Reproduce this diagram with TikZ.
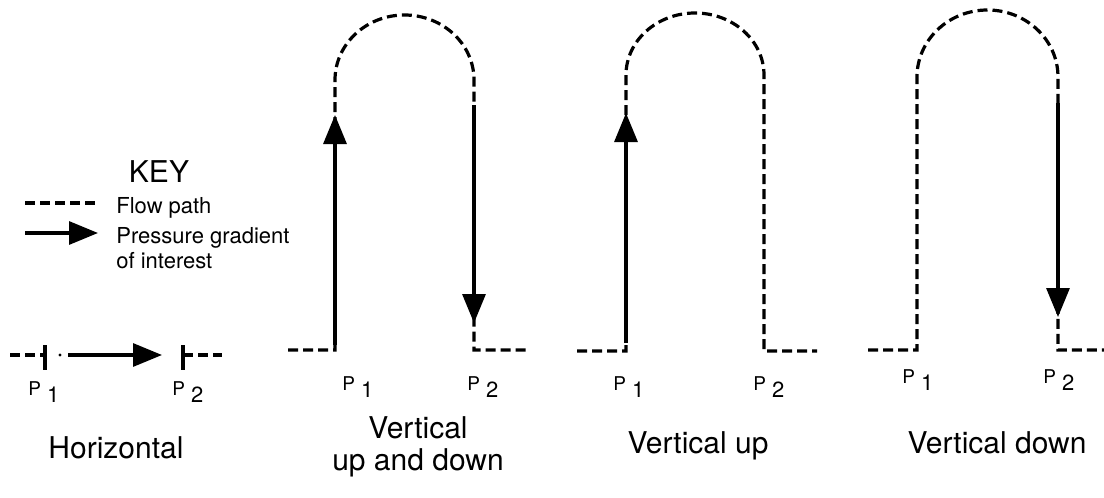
\documentclass[tikz,border=0pt]{standalone}
\usepackage{fontspec}
\setmainfont{TeX Gyre Heros}
\usepackage{tikz}
\usetikzlibrary{arrows.meta}

\tikzset{
  flow/.style={line width=1.6pt, dash pattern=on 5pt off 2.5pt},
  grad/.style={line width=1.6pt, -{Triangle[length=14.5pt, width=11.5pt]}},
  tickmark/.style={line width=1.6pt},
  caption/.style={font=\fontsize{15}{16}\selectfont, align=center, anchor=base, inner sep=0pt},
  keytext/.style={font=\fontsize{11}{12.5}\selectfont, align=left, anchor=base west, inner sep=0pt},
  plabel/.style={font=\fontsize{9.5}{10}\selectfont, anchor=base west, inner sep=0pt}
}
\newcommand{\plab}[1]{P\hspace{3pt}{\fontsize{11}{12}\selectfont\raisebox{-3.5pt}{#1}}}

\begin{document}
\begin{tikzpicture}[x=0.5pt, y=-0.5pt]
  \useasboundingbox (0,0) rectangle (1104,498);

  % key
  \node[caption] (key) at (159,182) {KEY};
  \coordinate (kf1) at (25,203);
  \coordinate (kf2) at (97,203);
  \coordinate (kg1) at (25,233);
  \coordinate (kg2) at (98,233);
  \draw[flow] (kf1) -- (kf2);
  \draw[grad] (kg1) -- (kg2);
  \node[keytext] (kflow) at (116,213) {Flow path};
  \node[keytext] (kgrad) at (116,268) {Pressure gradient\\of interest};

  % horizontal
  \coordinate (h0) at (10,355);
  \coordinate (h1) at (45,355);
  \coordinate (h2) at (183,355);
  \coordinate (h3) at (222,355);
  \draw[flow] (h0) -- (h1);
  \draw[flow] (h2) -- (h3);
  \draw[tickmark] (45,345) -- (45,370);
  \draw[tickmark] (183,345) -- (183,370);
  \fill (60,355) circle (0.8pt);
  \coordinate (ha) at (68,355);
  \coordinate (hb) at (162,355);
  \draw[grad] (ha) -- (hb);
  \node[plabel] (hp1) at (28,395) {\plab{1}};
  \node[plabel] (hp2) at (172,395) {\plab{2}};
  \node[caption] (hcap) at (116,458) {Horizontal};

  % vertical up and down
  \coordinate (a0) at (288,350);
  \coordinate (a1) at (335,350);
  \coordinate (a2) at (335,80);
  \coordinate (a3) at (474,350);
  \coordinate (a4) at (527,350);
  \draw[flow] (a0) -- (a1) -- (a2)
    arc[start angle=180, end angle=360, x radius=69.5, y radius=65] -- (a3) -- (a4);
  \coordinate (au1) at (335,345);
  \coordinate (au2) at (335,115);
  \coordinate (ad1) at (474,105);
  \coordinate (ad2) at (474,323);
  \draw[grad] (au1) -- (au2);
  \draw[grad] (ad1) -- (ad2);
  \node[plabel] (ap1) at (342,390) {\plab{1}};
  \node[plabel] (ap2) at (467,390) {\plab{2}};
  \node[caption] (acap) at (418,470) {Vertical\\up and down};

  % vertical up
  \coordinate (b0) at (577,351);
  \coordinate (b1) at (626,351);
  \coordinate (b2) at (626,75);
  \coordinate (b3) at (764,351);
  \coordinate (b4) at (817,351);
  \draw[flow] (b0) -- (b1) -- (b2)
    arc[start angle=180, end angle=360, x radius=69, y radius=62] -- (b3) -- (b4);
  \coordinate (bu1) at (626,343);
  \coordinate (bu2) at (626,113);
  \draw[grad] (bu1) -- (bu2);
  \node[plabel] (bp1) at (613,390) {\plab{1}};
  \node[plabel] (bp2) at (753,390) {\plab{2}};
  \node[caption] (bcap) at (698,453) {Vertical up};

  % vertical down
  \coordinate (c0) at (868,350);
  \coordinate (c1) at (917,350);
  \coordinate (c2) at (917,77);
  \coordinate (c3) at (1058,350);
  \coordinate (c4) at (1104,350);
  \draw[flow] (c0) -- (c1) -- (c2)
    arc[start angle=180, end angle=360, x radius=70.5, y radius=67] -- (c3) -- (c4);
  \coordinate (cd1) at (1058,103);
  \coordinate (cd2) at (1058,317);
  \draw[grad] (cd1) -- (cd2);
  \node[plabel] (cp1) at (902,383) {\plab{1}};
  \node[plabel] (cp2) at (1043,383) {\plab{2}};
  \node[caption] (ccap) at (997,453) {Vertical down};
\end{tikzpicture}
\end{document}
